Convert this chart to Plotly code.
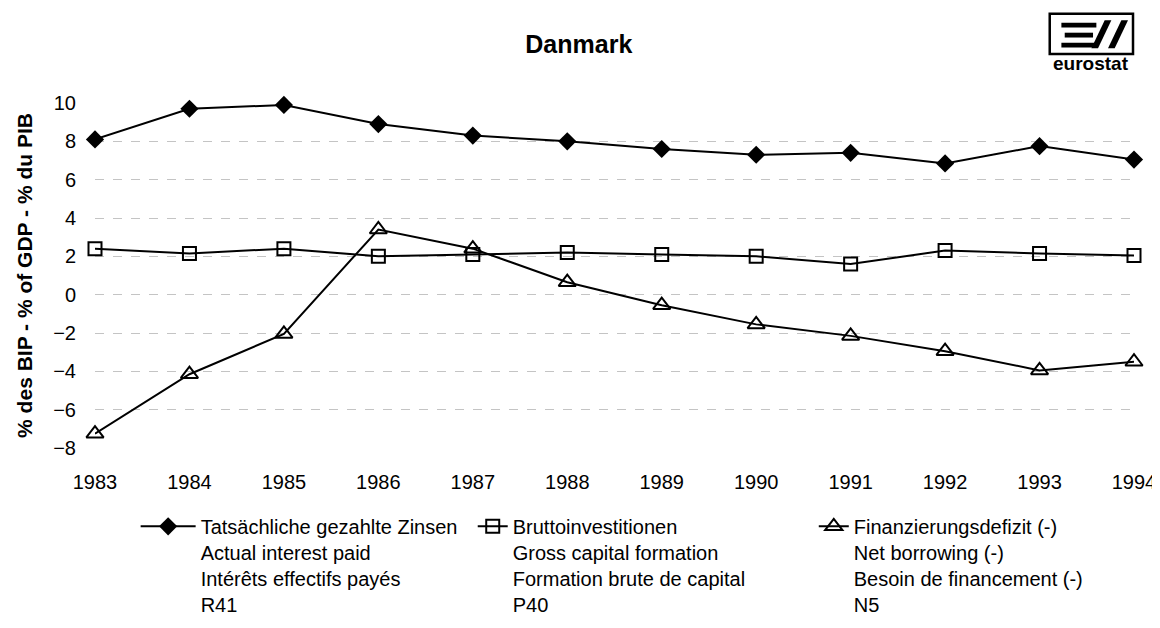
import plotly.graph_objects as go

W, H = 1160, 628
L, R, T, B = 87, 25, 95, 181

years = [1983, 1984, 1985, 1986, 1987, 1988, 1989, 1990, 1991, 1992, 1993, 1994]
zinsen = [8.1, 9.7, 9.9, 8.9, 8.3, 8.0, 7.6, 7.3, 7.4, 6.85, 7.75, 7.05]
brutto = [2.4, 2.15, 2.4, 2.0, 2.1, 2.2, 2.1, 2.0, 1.6, 2.3, 2.15, 2.05]
defizit = [-7.25, -4.15, -2.05, 3.4, 2.4, 0.65, -0.55, -1.55, -2.15, -2.95, -3.95, -3.5]

name_zinsen = "Tatsächliche gezahlte Zinsen<br>Actual interest paid<br>Intérêts effectifs payés<br>R41"
name_brutto = "Bruttoinvestitionen<br>Gross capital formation<br>Formation brute de capital<br>P40"
name_defizit = "Finanzierungsdefizit (-)<br>Net borrowing (-)<br>Besoin de financement (-)<br>N5"

FONT = "Liberation Sans, Arial, sans-serif"


def px(x):
    return (x - L) / (W - L - R)


def py(y):
    return 1 - (y - T) / (H - T - B)


fig = go.Figure()
fig.add_trace(go.Scatter(x=years, y=zinsen, name=name_zinsen, mode="lines+markers",
                         line=dict(color="black", width=2),
                         marker=dict(symbol="diamond", size=14, color="black"),
                         cliponaxis=False, legend="legend"))
fig.add_trace(go.Scatter(x=years, y=brutto, name=name_brutto, mode="lines+markers",
                         line=dict(color="black", width=2),
                         marker=dict(symbol="square-open", size=13, color="black",
                                     line=dict(width=2)),
                         cliponaxis=False, legend="legend2"))
fig.add_trace(go.Scatter(x=years, y=defizit, name=name_defizit, mode="lines+markers",
                         line=dict(color="black", width=2),
                         marker=dict(symbol="triangle-up-open", size=15, color="black",
                                     line=dict(width=2)),
                         cliponaxis=False, legend="legend3"))

leg = dict(yanchor="top", xanchor="left", y=py(507), valign="top",
           font=dict(family=FONT, size=20, color="black"), bgcolor="rgba(0,0,0,0)")

# eurostat logo (box, E bars, two slashes)
bx0, bx1, by0, by1 = 1050, 1134, 4, 45
bw, bh = bx1 - bx0, by1 - by0


def lx(f):
    return px(bx0 + f * bw)


def ly(f):
    return py(by0 + f * bh)


logo = [dict(type="rect", x0=lx(0), x1=lx(1), y0=ly(0), y1=ly(1),
             line=dict(color="black", width=2.5))]
for yy, xa, xb in [(0.22, 0.14, 0.56), (0.47, 0.18, 0.52), (0.72, 0.14, 0.56)]:
    logo.append(dict(type="rect", x0=lx(xa), x1=lx(xb), y0=ly(yy), y1=ly(yy + 0.12),
                     fillcolor="black", line=dict(width=0)))
for a in [0.50, 0.70]:
    logo.append(dict(type="path",
                     path="M {},{} L {},{} L {},{} L {},{} Z".format(
                         lx(a), ly(0.86), lx(a + 0.08), ly(0.86),
                         lx(a + 0.24), ly(0.16), lx(a + 0.16), ly(0.16)),
                     fillcolor="black", line=dict(width=0)))
for s in logo:
    s["xref"] = "paper"
    s["yref"] = "paper"

fig.update_layout(
    width=W, height=H,
    margin=dict(l=L, r=R, t=T, b=B),
    paper_bgcolor="white", plot_bgcolor="white",
    font=dict(family=FONT, size=20, color="black"),
    title=dict(text="<b>Danmark</b>", x=px(575), xref="paper", xanchor="center",
               y=1 - 36 / H, yanchor="middle", font=dict(family=FONT, size=25)),
    showlegend=True,
    legend=dict(leg, x=px(128), itemwidth=55),
    legend2=dict(leg, x=px(468)),
    legend3=dict(leg, x=px(812)),
    shapes=logo,
    annotations=[dict(text="<b>eurostat</b>", x=lx(0.5), y=py(55), xref="paper", yref="paper",
                      showarrow=False, font=dict(family=FONT, size=19), xanchor="center",
                      yanchor="middle")],
)
fig.update_xaxes(range=[1983, 1994], tickvals=years, showgrid=False, zeroline=False,
                 showline=False, ticks="", ticklabelstandoff=20,
                 tickfont=dict(family=FONT, size=20))
fig.update_yaxes(range=[-8, 10], dtick=2, showgrid=True, gridcolor="#c4c4c4",
                 griddash="dash", gridwidth=1, zeroline=False, showline=False, ticks="",
                 ticklabelstandoff=18, tickfont=dict(family=FONT, size=20),
                 title=dict(text="<b>% des BIP - % of GDP - % du PIB</b>", standoff=14,
                            font=dict(family=FONT, size=21)))

fig.write_html("out.html")
